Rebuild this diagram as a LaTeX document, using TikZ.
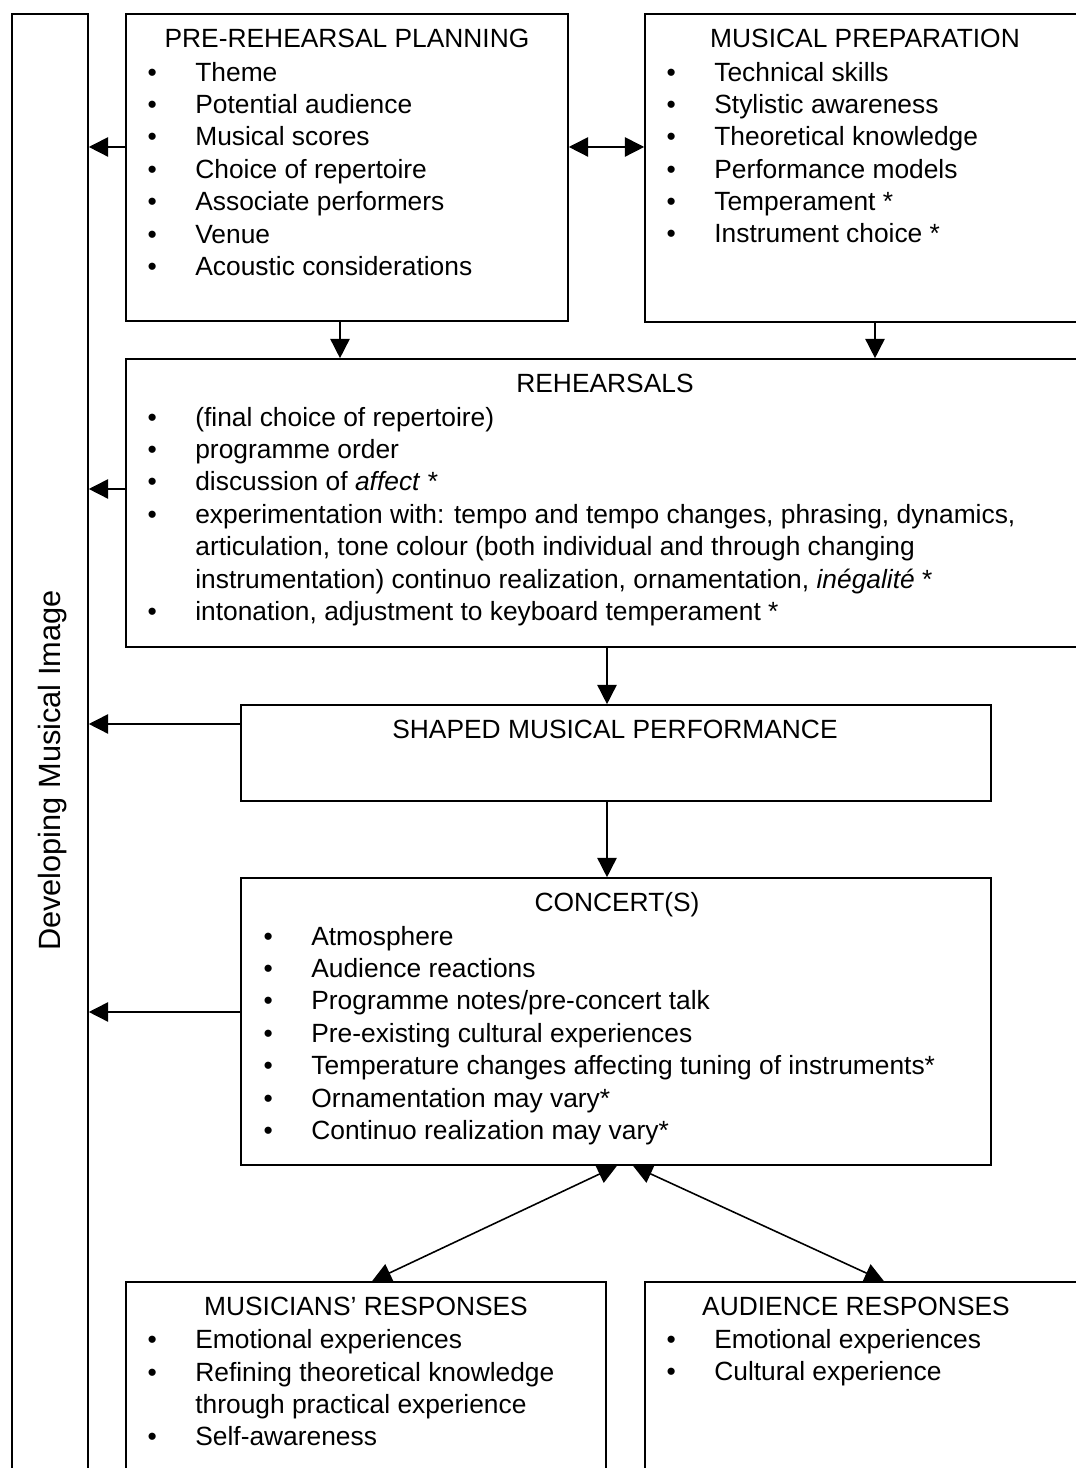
\documentclass[tikz,border=0pt]{standalone}
\usepackage{fontspec}
\setmainfont{Liberation Sans}
\usetikzlibrary{arrows.meta, positioning, calc}

\newcommand{\bul}{\llap{\textbullet\hspace{0.77cm}}}

\begin{document}
\begin{tikzpicture}[
    every node/.style={font=\fontsize{15pt}{18.43pt}\selectfont, inner sep=0pt},
    box/.style={
        rectangle, draw=black, line width=0.9pt, inner sep=0pt,
    },
    head/.style={anchor=base},
    list/.style={anchor=base west, align=left},
    arr/.style={-{Triangle[length=11pt, width=11pt]}, line width=0.9pt},
    dbl/.style={{Triangle[length=11pt, width=11pt]}-{Triangle[length=11pt, width=11pt]},
        line width=0.9pt},
]
\useasboundingbox (0, 0) rectangle (21.50, 29.36);

% ================================================ left: the long column
\node[box, minimum width=1.52cm, minimum height=29.52cm] (img) at (1.00, 14.32) {};
\node[rotate=90, font=\fontsize{17.5pt}{21pt}\selectfont] (imglab) at (1.06, 13.95)
    {Developing Musical Image};

% ================================================ top row
% (lists sit on the baseline of their last line)
\node[box, minimum width=8.84cm, minimum height=6.14cm] (pre) at (6.94, 26.01) {};
\node[head] (pretit) at (6.94, 28.40) {PRE-REHEARSAL PLANNING};
\node[list] (prelist) at (3.90, 23.85) {%
    \bul Theme\\
    \bul Potential audience\\
    \bul Musical scores\\
    \bul Choice of repertoire\\
    \bul Associate performers\\
    \bul Venue\\
    \bul Acoustic considerations};

\node[box, minimum width=8.80cm, minimum height=6.16cm] (prep) at (17.30, 26.00) {};
\node[head] (preptit) at (17.30, 28.40) {MUSICAL PREPARATION};
\node[list] (preplist) at (14.28, 24.50) {%
    \bul Technical skills\\
    \bul Stylistic awareness\\
    \bul Theoretical knowledge\\
    \bul Performance models\\
    \bul Temperament *\\
    \bul Instrument choice *};

% ================================================ rehearsals
\node[box, minimum width=19.18cm, minimum height=5.76cm] (reh) at (12.11, 19.30) {};
\node[head] (rehtit) at (12.10, 21.50) {REHEARSALS};
\node[list] (rehlist) at (3.90, 16.95) {%
    \bul (final choice of repertoire)\\
    \bul programme order\\
    \bul discussion of \textit{affect} *\\
    \bul experimentation with: tempo and tempo changes, phrasing, dynamics,\\
    articulation, tone colour (both individual and through changing\\
    instrumentation) continuo realization, ornamentation, \textit{inégalité} *\\
    \bul intonation, adjustment to keyboard temperament *};

% ================================================ performance and concert
\node[box, minimum width=15.00cm, minimum height=1.92cm] (shaped) at (12.32, 14.30) {};
\node[head] (shapedtit) at (12.30, 14.58) {SHAPED MUSICAL PERFORMANCE};

\node[box, minimum width=15.00cm, minimum height=5.74cm] (concert) at (12.32, 8.93) {};
\node[head] (concerttit) at (12.34, 11.12) {CONCERT(S)};
\node[list] (concertlist) at (6.22, 6.57) {%
    \bul Atmosphere\\
    \bul Audience reactions\\
    \bul Programme notes/pre-concert talk\\
    \bul Pre-existing cultural experiences\\
    \bul Temperature changes affecting tuning of instruments*\\
    \bul Ornamentation may vary*\\
    \bul Continuo realization may vary*};

% ================================================ responses
\node[box, minimum width=9.60cm, minimum height=4.16cm] (mus) at (7.32, 1.64) {};
\node[head] (mustit) at (7.32, 3.04) {MUSICIANS’ RESPONSES};
\node[list] (muslist) at (3.90, 0.44) {%
    \bul Emotional experiences\\
    \bul Refining theoretical knowledge\\
    through practical experience\\
    \bul Self-awareness};

\node[box, minimum width=8.80cm, minimum height=4.16cm] (aud) at (17.30, 1.64) {};
\node[head] (audtit) at (17.12, 3.04) {AUDIENCE RESPONSES};
\node[list] (audlist) at (14.28, 1.74) {%
    \bul Emotional experiences\\
    \bul Cultural experience};

% ================================================ connectors
\draw[arr] ([yshift=0.41cm]pre.west) -- ([yshift=0.41cm]pre.west -| img.east);
\draw[dbl] ([yshift=0.41cm]pre.east) -- ([yshift=0.41cm]pre.east -| prep.west);
\draw[arr] ([xshift=-0.14cm]pre.south) -- ([xshift=-0.14cm]pre.south |- reh.north);
\draw[arr] ([xshift=0.20cm]prep.south) -- ([xshift=0.20cm]prep.south |- reh.north);

\draw[arr] ([yshift=0.28cm]reh.west) -- ([yshift=0.28cm]reh.west -| img.east);
\draw[arr] ([xshift=0.03cm]reh.south) -- ([xshift=0.03cm]reh.south |- shaped.north);

\draw[arr] ([yshift=0.58cm]shaped.west) -- ([yshift=0.58cm]shaped.west -| img.east);
\draw[arr] ([xshift=-0.18cm]shaped.south) -- ([xshift=-0.18cm]shaped.south |- concert.north);

\draw[arr] ([yshift=0.19cm]concert.west) -- ([yshift=0.19cm]concert.west -| img.east);

\draw[dbl] ([xshift=0.12cm]mus.north) -- ([xshift=0.02cm]concert.south);
\draw[dbl] ([xshift=0.34cm]concert.south) -- ([xshift=0.38cm]aud.north);

\end{tikzpicture}
\end{document}
